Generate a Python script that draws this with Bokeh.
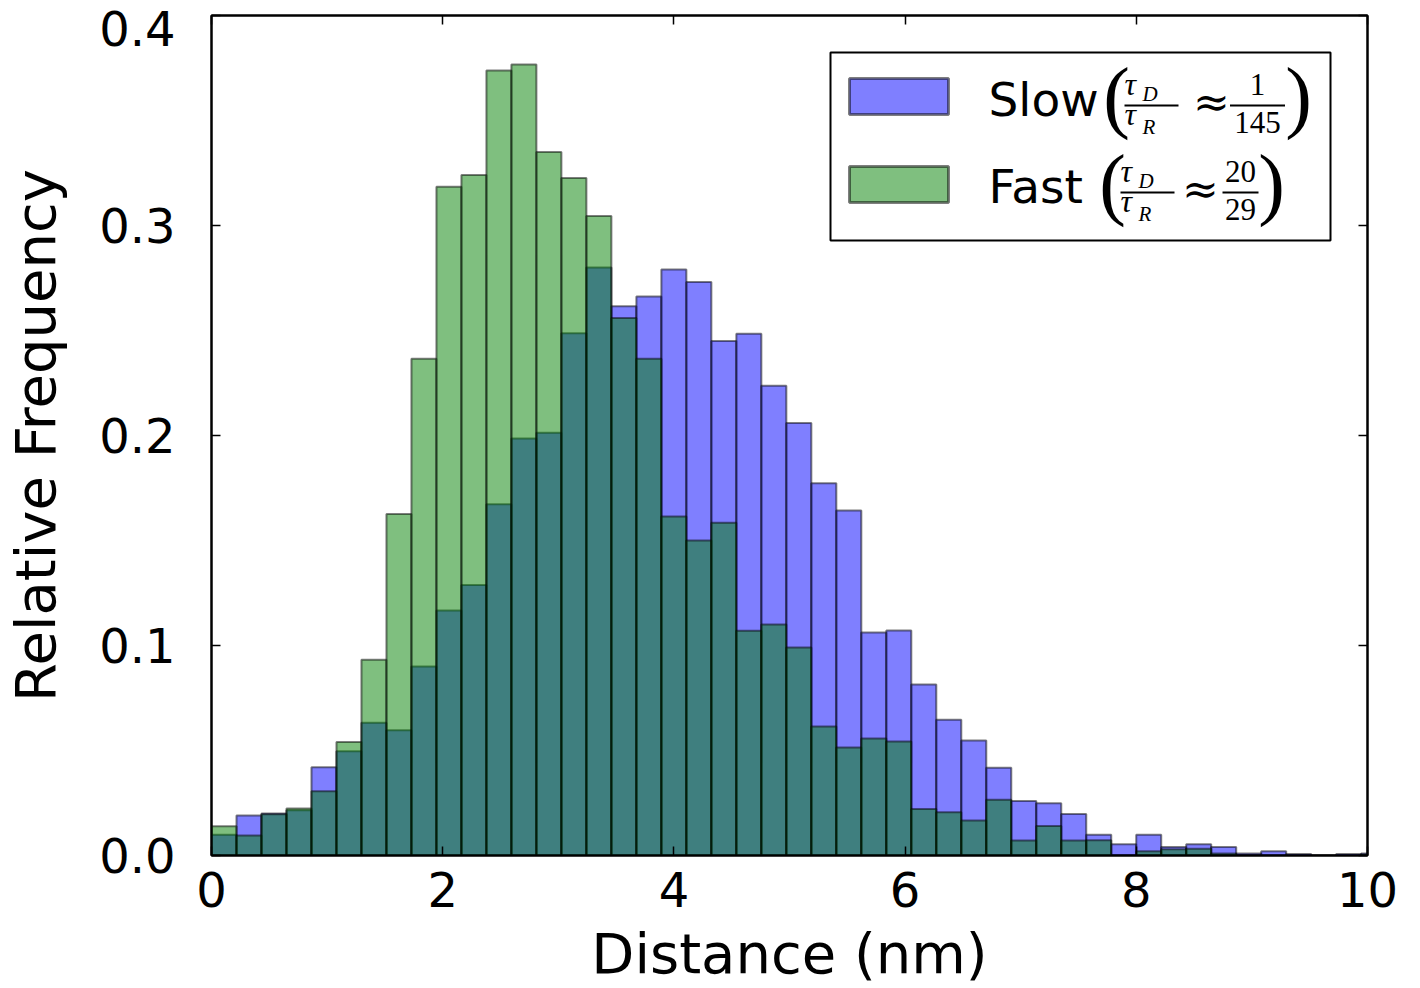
import numpy as np
from bokeh.plotting import figure
from bokeh.models import (Range1d, FixedTicker, LinearAxis, BoxAnnotation, Label,
                          CustomJSTickFormatter, ColumnDataSource)
from bokeh.embed import file_html
from bokeh.resources import INLINE

# ---------------- data ----------------
bin_width = 0.2162  # nm
slow = [0.0099, 0.0190, 0.0200, 0.0216, 0.0420, 0.0497, 0.0632, 0.0597, 0.0900, 0.1167,
        0.1288, 0.1673, 0.1986, 0.2013, 0.2487, 0.2800, 0.2616, 0.2662, 0.2790, 0.2731,
        0.2450, 0.2484, 0.2237, 0.2060, 0.1773, 0.1643, 0.1062, 0.1071, 0.0814, 0.0646,
        0.0548, 0.0418, 0.0259, 0.0249, 0.0198, 0.0099, 0.0053, 0.0099, 0.0040, 0.0054,
        0.0040, 0.0010, 0.0020, 0.0007, 0.0000, 0.0007, 0.0010]
fast = [0.0139, 0.0095, 0.0196, 0.0224, 0.0306, 0.0540, 0.0932, 0.1626, 0.2365, 0.3184,
        0.3240, 0.3738, 0.3767, 0.3350, 0.3226, 0.3045, 0.2559, 0.2365, 0.1614, 0.1500,
        0.1584, 0.1070, 0.1100, 0.0990, 0.0614, 0.0514, 0.0557, 0.0543, 0.0222, 0.0206,
        0.0167, 0.0265, 0.0071, 0.0140, 0.0071, 0.0073, 0.0000, 0.0020, 0.0030, 0.0032,
        0.0010, 0.0000, 0.0000, 0.0000, 0.0000, 0.0000, 0.0005]
x_ticks = [0, 2, 4, 6, 8, 10]
y_ticks = [0.0, 0.1, 0.2, 0.3, 0.4]
y_tick_labels = ["0.0", "0.1", "0.2", "0.3", "0.4"]
x_label = "Distance (nm)"
y_label = "Relative Frequency"

left = [i * bin_width for i in range(len(slow))]
right = [(i + 1) * bin_width for i in range(len(slow))]
src_slow = ColumnDataSource(dict(left=left, right=right, top=slow, bottom=[0] * len(slow)))
src_fast = ColumnDataSource(dict(left=left, right=right, top=fast, bottom=[0] * len(fast)))

# ---------------- figure ----------------
W, H = 1420, 988
FL, FR, FT, FB = 211, 1367, 15, 855  # frame in canvas pixels

p = figure(width=W, height=H, x_range=Range1d(0, 10), y_range=Range1d(0, 0.4),
           output_backend="svg", toolbar_location=None,
           min_border_left=FL, min_border_right=W - FR, min_border_top=FT,
           min_border_bottom=H - FB)
p.background_fill_color = "white"
p.border_fill_color = "white"
p.outline_line_color = "black"
p.outline_line_width = 2
p.xgrid.visible = False
p.ygrid.visible = False

p.quad(left="left", right="right", top="top", bottom="bottom", source=src_slow,
       fill_color="#0000ff", fill_alpha=0.5, line_color="black", line_alpha=0.5, line_width=2)
p.quad(left="left", right="right", top="top", bottom="bottom", source=src_fast,
       fill_color="#008000", fill_alpha=0.5, line_color="black", line_alpha=0.5, line_width=2)

def style_axis(ax, show_labels):
    ax.axis_line_color = "black"
    ax.axis_line_width = 2
    ax.major_tick_in = 9
    ax.major_tick_out = 0
    ax.major_tick_line_color = "black"
    ax.major_tick_line_width = 1.5
    ax.minor_tick_line_color = None
    if not show_labels:
        ax.formatter = CustomJSTickFormatter(code="return ''")
        ax.major_label_text_font_size = "0px"
        ax.major_label_standoff = 0

xa = p.xaxis[0]
ya = p.yaxis[0]
xa.ticker = FixedTicker(ticks=x_ticks)
ya.ticker = FixedTicker(ticks=y_ticks)
style_axis(xa, True)
style_axis(ya, True)
overrides = {v: lab for v, lab in zip(y_ticks, y_tick_labels)}
overrides[y_ticks[-1]] = "\n" + y_tick_labels[-1]   # top label sits below the frame edge
ya.major_label_overrides = overrides
ya.major_label_text_line_height = 0.01
for ax in (xa, ya):
    ax.major_label_text_font = "DejaVu Sans"
    ax.major_label_text_font_size = "48px"
    ax.major_label_text_color = "black"
    ax.axis_label_text_font = "DejaVu Sans"
    ax.axis_label_text_font_size = "56px"
    ax.axis_label_text_font_style = "normal"
    ax.axis_label_text_color = "black"
xa.axis_label = x_label
ya.axis_label = y_label
xa.major_label_standoff = 16
xa.axis_label_standoff = 11
ya.major_label_standoff = 36
ya.axis_label_standoff = 28

ra = LinearAxis(ticker=FixedTicker(ticks=y_ticks))
ta = LinearAxis(ticker=FixedTicker(ticks=x_ticks))
style_axis(ra, False)
style_axis(ta, False)
p.add_layout(ra, "right")
p.add_layout(ta, "above")

# ---------------- helpers for the hand-drawn legend ----------------
def X(px):
    return (px - FL) / (FR - FL) * 10.0

def Y(py):
    return (FB - py) / (FB - FT) * 0.4

def box(l, r, t, b, **kw):
    p.add_layout(BoxAnnotation(left=X(l), right=X(r), top=Y(t), bottom=Y(b), **kw))

def txt(text, px, py, size, font="DejaVu Sans", style="normal", align="left", mid=False):
    # py is the alphabetic baseline (canvas px) unless mid=True
    ym = py if mid else py - 0.35 * size
    p.add_layout(Label(x=X(px), y=Y(ym), text=text, text_font=font,
                       text_font_size=f"{size}px", text_font_style=style,
                       text_align=align, text_baseline="middle", text_color="black"))

box(830, 1330, 52, 240, fill_color="white", fill_alpha=1.0, line_color="black",
    line_alpha=1.0, line_width=2)
box(849, 948, 78, 114, fill_color="#0000ff", fill_alpha=0.5, line_color="black",
    line_alpha=0.5, line_width=3)
box(849, 948, 166, 202, fill_color="#008000", fill_alpha=0.5, line_color="black",
    line_alpha=0.5, line_width=3)

SERIF = "Liberation Serif"

def entry(name, base, name_x, lp_x, frac_x, approx_x, num_x, num, den, rp_x, bar_y, nbar_w):
    txt(name, name_x, base, 47)
    txt("(", lp_x, bar_y + 18, 80, font=SERIF, align="center")
    txt(")", rp_x, bar_y + 18, 80, font=SERIF, align="center")
    # tau_D / tau_R
    txt("τ", frac_x, bar_y - 10, 32, font=SERIF, style="italic")
    txt("D", frac_x + 18, bar_y - 4, 21, font=SERIF, style="italic")
    box(frac_x, frac_x + 54, bar_y - 1, bar_y + 1, fill_color="black", fill_alpha=1.0,
        line_color=None)
    txt("τ", frac_x, bar_y + 20, 32, font=SERIF, style="italic")
    txt("R", frac_x + 18, bar_y + 29, 21, font=SERIF, style="italic")
    txt("≈", approx_x, bar_y - 4, 44, font="DejaVu Serif", align="center", mid=True)
    txt(num, num_x, bar_y - 10, 31, font=SERIF, align="center")
    box(num_x - nbar_w / 2, num_x + nbar_w / 2, bar_y - 1, bar_y + 1, fill_color="black",
        fill_alpha=1.0, line_color=None)
    txt(den, num_x, bar_y + 28, 31, font=SERIF, align="center")

entry("Slow", 115, 988, 1116, 1124, 1211, 1257, "1", "145", 1298, 105, 55)
entry("Fast", 202, 988, 1112, 1120, 1200, 1240, "20", "29", 1271, 192, 36)

open("out.html", "w").write(file_html(p, INLINE))
